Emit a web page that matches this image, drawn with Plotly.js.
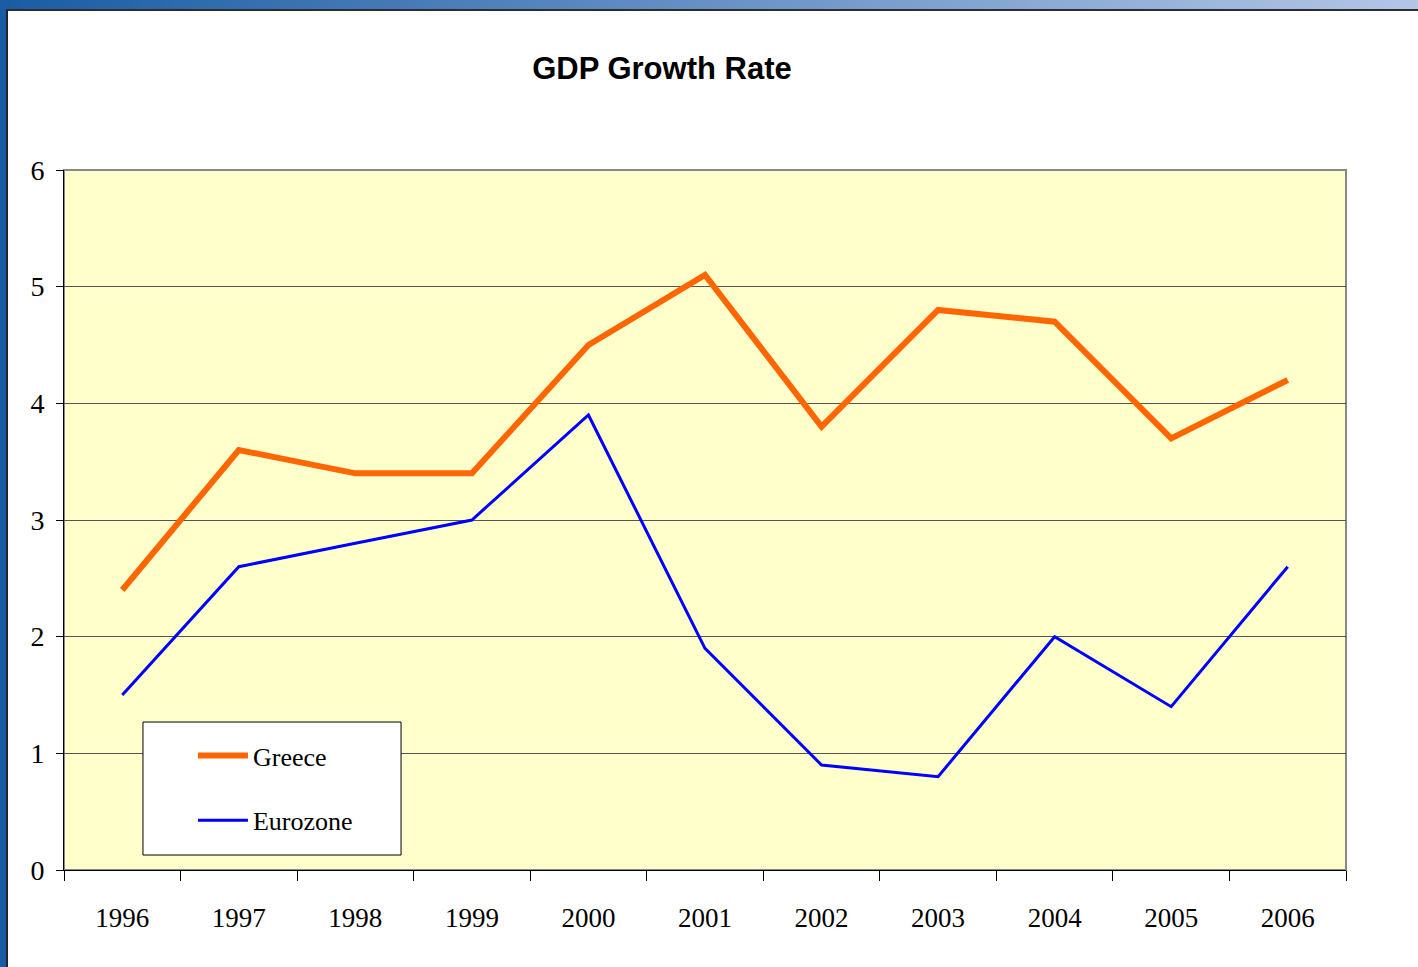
<!DOCTYPE html>
<html>
<head>
<meta charset="utf-8">
<script src="https://cdn.plot.ly/plotly-3.0.1.min.js"></script>
<style>
  html, body { margin:0; padding:0; width:1418px; height:967px; overflow:hidden;
    background: linear-gradient(to right, #1a5ca4, #b4c6e6); }
  #frame { position:absolute; left:6px; top:9px; width:1412px; height:958px;
    border-left:2px solid #1e2630; border-top:2px solid #2a2e34; background:#fff; }
  #chart { width:1410px; height:956px; }
</style>
</head>
<body>
<div id="frame"><div id="chart"></div></div>
<script>
const years = ['1996','1997','1998','1999','2000','2001','2002','2003','2004','2005','2006'];
const greece = [2.4, 3.6, 3.4, 3.4, 4.5, 5.1, 3.8, 4.8, 4.7, 3.7, 4.2];
const eurozone = [1.5, 2.6, 2.8, 3.0, 3.9, 1.9, 0.9, 0.8, 2.0, 1.4, 2.6];
const yTicks = [0, 1, 2, 3, 4, 5, 6];

const serif = 'Liberation Serif, Times New Roman, serif';

const traces = [
  { x: years, y: greece, name: 'Greece', type: 'scatter', mode: 'lines',
    line: { color: '#ff6600', width: 6 }, legendgroup: 'g' },
  { x: years, y: eurozone, name: 'Eurozone', type: 'scatter', mode: 'lines',
    line: { color: '#0000ff', width: 3 }, legendgroup: 'e' }
];

const layout = {
  width: 1410, height: 956,
  margin: { l: 56, r: 72, t: 159, b: 97 },
  paper_bgcolor: '#ffffff',
  plot_bgcolor: '#ffffcc',
  title: { text: 'GDP Growth Rate', xref: 'container', yref: 'container',
    x: 0.4638, xanchor: 'center', y: 0.9404, yanchor: 'middle',
    font: { family: 'Liberation Sans, Arial, sans-serif', size: 31, color: '#000', weight: 'bold' } },
  xaxis: { type: 'category', range: [-0.5, 10.5], tickson: 'boundaries',
    ticks: 'outside', ticklen: 10, tickcolor: '#000', tickwidth: 1,
    showline: true, linecolor: '#000', linewidth: 1, showgrid: false,
    tickfont: { family: serif, size: 27, color: '#000' }, ticklabelstandoff: 24,
    fixedrange: true },
  yaxis: { range: [0, 6], tickvals: yTicks, ticktext: yTicks.map(String),
    ticks: 'outside', ticklen: 7, tickcolor: '#000', tickwidth: 1,
    showline: true, linecolor: '#000', linewidth: 1,
    showgrid: true, gridcolor: '#555', gridwidth: 1, zeroline: false,
    tickfont: { family: serif, size: 28, color: '#000' }, ticklabelstandoff: 6,
    fixedrange: true },
  showlegend: true,
  legend: { x: 0.1006, y: 0.197, xanchor: 'left', yanchor: 'top',
    bgcolor: 'rgba(0,0,0,0)', borderwidth: 0, tracegroupgap: 28, itemwidth: 50,
    font: { family: serif, size: 26, color: '#000' } },
  shapes: [
    { type: 'rect', xref: 'paper', yref: 'paper', x0: 0, x1: 1, y0: 0, y1: 1,
      line: { color: '#888', width: 2 }, layer: 'below' },
    { type: 'rect', xref: 'paper', yref: 'paper', x0: 0.0616, x1: 0.2629, y0: 0.0214, y1: 0.2114,
      fillcolor: '#ffffff', line: { color: '#000', width: 1 }, layer: 'above' }
  ]
};

Plotly.newPlot('chart', traces, layout, { displayModeBar: false, staticPlot: true });
</script>
</body>
</html>
